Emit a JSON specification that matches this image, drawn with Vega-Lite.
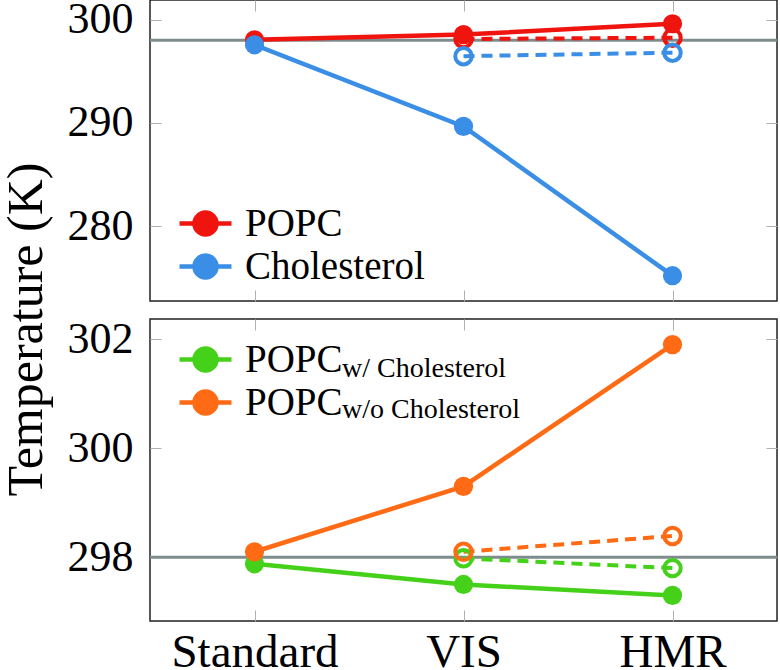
{
  "$schema": "https://vega.github.io/schema/vega-lite/v6.json",
  "background": "white",
  "padding": {"left": 0, "top": -4, "right": 0, "bottom": 0},
  "datasets": {
    "top": [
      {"series": "POPC", "kind": "solid", "step": "Standard", "value": 298.05},
      {"series": "POPC", "kind": "solid", "step": "VIS", "value": 298.55},
      {"series": "POPC", "kind": "solid", "step": "HMR", "value": 299.6},
      {"series": "POPC", "kind": "open", "step": "VIS", "value": 298.12},
      {"series": "POPC", "kind": "open", "step": "HMR", "value": 298.25},
      {"series": "Cholesterol", "kind": "solid", "step": "Standard", "value": 297.56},
      {"series": "Cholesterol", "kind": "solid", "step": "VIS", "value": 289.66},
      {"series": "Cholesterol", "kind": "solid", "step": "HMR", "value": 275.2},
      {"series": "Cholesterol", "kind": "open", "step": "VIS", "value": 296.46},
      {"series": "Cholesterol", "kind": "open", "step": "HMR", "value": 296.8}
    ],
    "bottom": [
      {"series": "w/ Cholesterol", "sub": "with", "kind": "solid", "step": "Standard", "value": 297.88},
      {"series": "w/ Cholesterol", "sub": "with", "kind": "solid", "step": "VIS", "value": 297.5},
      {"series": "w/ Cholesterol", "sub": "with", "kind": "solid", "step": "HMR", "value": 297.3},
      {"series": "w/ Cholesterol", "sub": "with", "kind": "open", "step": "VIS", "value": 297.98},
      {"series": "w/ Cholesterol", "sub": "with", "kind": "open", "step": "HMR", "value": 297.8},
      {"series": "w/o Cholesterol", "sub": "without", "kind": "solid", "step": "Standard", "value": 298.1},
      {"series": "w/o Cholesterol", "sub": "without", "kind": "solid", "step": "VIS", "value": 299.3},
      {"series": "w/o Cholesterol", "sub": "without", "kind": "solid", "step": "HMR", "value": 301.9},
      {"series": "w/o Cholesterol", "sub": "without", "kind": "open", "step": "VIS", "value": 298.1},
      {"series": "w/o Cholesterol", "sub": "without", "kind": "open", "step": "HMR", "value": 298.39}
    ],
    "ref": [{"value": 298}]
  },
  "spacing": 18,
  "bounds": "flush",
  "resolve": {
    "scale": {"x": "independent", "y": "independent", "color": "independent", "opacity": "independent"},
    "legend": {"color": "independent", "opacity": "independent"}
  },
  "vconcat": [
    {
      "width": 627,
      "height": 301,
      "data": {"name": "top"},
      "resolve": {"axis": {"x": "independent", "y": "independent"}},
      "layer": [
        {
          "data": {"name": "ref"},
          "mark": {"type": "rule", "color": "#7f8c8d", "strokeWidth": 3},
          "encoding": {
            "y": {"field": "value", "type": "quantitative", "scale": {"domain": [272.75, 301.9], "zero": false, "nice": false}, "axis": null}
          }
        },
        {
          "transform": [{"filter": "datum.kind == 'open'"}],
          "mark": {"type": "line", "strokeWidth": 4, "strokeDash": [11, 7]},
          "encoding": {
            "x": {"field": "step", "type": "ordinal", "sort": ["Standard", "VIS", "HMR"], "scale": {"type": "point", "domain": ["Standard", "VIS", "HMR"], "padding": 0.5}, "axis": null},
            "y": {"field": "value", "type": "quantitative", "scale": {"domain": [272.75, 301.9], "zero": false, "nice": false}, "axis": null},
            "color": {"field": "series", "type": "nominal", "scale": {"domain": ["POPC", "Cholesterol"], "range": ["#f0140f", "#3a8ee6"]},
              "legend": {"orient": "none", "legendX": 35, "legendY": 203, "title": null, "padding": 0, "rowPadding": 2, "symbolType": "M-1.444,0H1.444M-0.611,0A0.611,0.611,0,1,1,0.611,0A0.611,0.611,0,1,1,-0.611,0Z", "symbolSize": 1296, "symbolStrokeWidth": 4.5, "symbolOffset": 0, "labelOffset": 19, "labelFontSize": 39, "labelBaseline": "middle",
                "encode": {"symbols": {"update": {"fill": {"scale": "concat_0_color", "field": "value"}, "stroke": {"scale": "concat_0_color", "field": "value"}, "strokeWidth": {"value": 4.5}, "strokeDash": {"value": []}, "opacity": {"value": 1}, "fillOpacity": {"value": 1}, "size": {"value": 1296}}}}}}
          }
        },
        {
          "transform": [{"filter": "datum.kind == 'solid'"}],
          "mark": {"type": "line", "strokeWidth": 4.5},
          "encoding": {
            "x": {"field": "step", "type": "ordinal", "sort": ["Standard", "VIS", "HMR"], "scale": {"type": "point", "domain": ["Standard", "VIS", "HMR"], "padding": 0.5},
              "axis": {"orient": "bottom", "labels": false, "title": null, "ticks": true}},
            "y": {"field": "value", "type": "quantitative", "scale": {"domain": [272.75, 301.9], "zero": false, "nice": false},
              "axis": {"orient": "left", "values": [280, 290, 300], "title": "Temperature (K)", "titleFontSize": 50, "titleY": 329, "titlePadding": 15.5, "labelFontSize": 44, "labelPadding": 28}},
            "color": {"field": "series", "type": "nominal", "scale": {"domain": ["POPC", "Cholesterol"], "range": ["#f0140f", "#3a8ee6"]}}
          }
        },
        {
          "transform": [{"filter": "datum.kind == 'open'"}],
          "mark": {"type": "point", "filled": false, "strokeWidth": 4, "size": 272, "opacity": 1},
          "encoding": {
            "x": {"field": "step", "type": "ordinal", "scale": {"type": "point", "domain": ["Standard", "VIS", "HMR"], "padding": 0.5}, "axis": null},
            "y": {"field": "value", "type": "quantitative", "scale": {"domain": [272.75, 301.9], "zero": false, "nice": false}, "axis": null},
            "color": {"field": "series", "type": "nominal", "scale": {"domain": ["POPC", "Cholesterol"], "range": ["#f0140f", "#3a8ee6"]}}
          }
        },
        {
          "transform": [{"filter": "datum.kind == 'solid'"}],
          "mark": {"type": "point", "filled": true, "size": 370, "opacity": 1},
          "encoding": {
            "x": {"field": "step", "type": "ordinal", "scale": {"type": "point", "domain": ["Standard", "VIS", "HMR"], "padding": 0.5},
              "axis": {"orient": "top", "labels": false, "title": null}},
            "y": {"field": "value", "type": "quantitative", "scale": {"domain": [272.75, 301.9], "zero": false, "nice": false},
              "axis": {"orient": "right", "values": [280, 290, 300], "labels": false, "title": null}},
            "color": {"field": "series", "type": "nominal", "scale": {"domain": ["POPC", "Cholesterol"], "range": ["#f0140f", "#3a8ee6"]}}
          }
        }
      ]
    },
    {
      "width": 627,
      "height": 302,
      "data": {"name": "bottom"},
      "resolve": {"axis": {"x": "independent", "y": "independent"}},
      "layer": [
        {
          "data": {"name": "ref"},
          "mark": {"type": "rule", "color": "#7f8c8d", "strokeWidth": 3},
          "encoding": {
            "y": {"field": "value", "type": "quantitative", "scale": {"domain": [296.83, 302.37], "zero": false, "nice": false}, "axis": null}
          }
        },
        {
          "transform": [{"filter": "datum.kind == 'open'"}],
          "mark": {"type": "line", "strokeWidth": 4, "strokeDash": [11, 7]},
          "encoding": {
            "x": {"field": "step", "type": "ordinal", "sort": ["Standard", "VIS", "HMR"], "scale": {"type": "point", "domain": ["Standard", "VIS", "HMR"], "padding": 0.5}, "axis": null},
            "y": {"field": "value", "type": "quantitative", "scale": {"domain": [296.83, 302.37], "zero": false, "nice": false}, "axis": null},
            "color": {"field": "series", "type": "nominal", "scale": {"domain": ["w/ Cholesterol", "w/o Cholesterol"], "range": ["#45d11a", "#ff6a14"]},
              "legend": {"orient": "none", "legendX": 35, "legendY": 20, "title": null, "padding": 0, "rowPadding": 2, "symbolType": "M-1.444,0H1.444M-0.611,0A0.611,0.611,0,1,1,0.611,0A0.611,0.611,0,1,1,-0.611,0Z", "symbolSize": 1296, "symbolStrokeWidth": 4.5, "symbolOffset": 0, "labelOffset": 19, "labelFontSize": 39, "labelBaseline": "middle", "labelExpr": "'POPC'",
                "encode": {"symbols": {"update": {"fill": {"scale": "concat_1_color", "field": "value"}, "stroke": {"scale": "concat_1_color", "field": "value"}, "strokeWidth": {"value": 4.5}, "strokeDash": {"value": []}, "opacity": {"value": 1}, "fillOpacity": {"value": 1}, "size": {"value": 1296}}}}}}
          }
        },
        {
          "transform": [{"filter": "datum.kind == 'solid'"}],
          "mark": {"type": "line", "strokeWidth": 4.5},
          "encoding": {
            "x": {"field": "step", "type": "ordinal", "sort": ["Standard", "VIS", "HMR"], "scale": {"type": "point", "domain": ["Standard", "VIS", "HMR"], "padding": 0.5},
              "axis": {"orient": "bottom", "title": null, "labelAngle": 0, "labelFontSize": 47, "labelPadding": 19}},
            "y": {"field": "value", "type": "quantitative", "scale": {"domain": [296.83, 302.37], "zero": false, "nice": false},
              "axis": {"orient": "left", "values": [298, 300, 302], "title": null, "labelFontSize": 44, "labelPadding": 28}},
            "color": {"field": "series", "type": "nominal", "scale": {"domain": ["w/ Cholesterol", "w/o Cholesterol"], "range": ["#45d11a", "#ff6a14"]}}
          }
        },
        {
          "transform": [{"filter": "datum.kind == 'open'"}],
          "mark": {"type": "point", "filled": false, "strokeWidth": 4, "size": 272, "opacity": 1},
          "encoding": {
            "x": {"field": "step", "type": "ordinal", "scale": {"type": "point", "domain": ["Standard", "VIS", "HMR"], "padding": 0.5}, "axis": null},
            "y": {"field": "value", "type": "quantitative", "scale": {"domain": [296.83, 302.37], "zero": false, "nice": false}, "axis": null},
            "color": {"field": "series", "type": "nominal", "scale": {"domain": ["w/ Cholesterol", "w/o Cholesterol"], "range": ["#45d11a", "#ff6a14"]}}
          }
        },
        {
          "transform": [{"filter": "datum.kind == 'solid'"}],
          "mark": {"type": "point", "filled": true, "size": 370, "opacity": 1},
          "encoding": {
            "x": {"field": "step", "type": "ordinal", "scale": {"type": "point", "domain": ["Standard", "VIS", "HMR"], "padding": 0.5},
              "axis": {"orient": "top", "labels": false, "title": null}},
            "y": {"field": "value", "type": "quantitative", "scale": {"domain": [296.83, 302.37], "zero": false, "nice": false},
              "axis": {"orient": "right", "values": [298, 300, 302], "labels": false, "title": null}},
            "color": {"field": "series", "type": "nominal", "scale": {"domain": ["w/ Cholesterol", "w/o Cholesterol"], "range": ["#45d11a", "#ff6a14"]}},
            "opacity": {"field": "sub", "type": "nominal", "scale": {"domain": ["with", "without"], "range": [1, 1]},
              "legend": {"orient": "none", "legendX": 164, "legendY": 44, "title": null, "padding": 0, "rowPadding": 13, "symbolSize": 1, "symbolOffset": 0, "labelOffset": 0, "labelFontSize": 28, "labelBaseline": "alphabetic", "symbolFillColor": "transparent", "symbolStrokeColor": "transparent", "labelExpr": "datum.value == 'with' ? 'w/ Cholesterol' : 'w/o Cholesterol'",
                "encode": {"symbols": {"update": {"opacity": {"value": 0}, "fill": {"value": "transparent"}, "stroke": {"value": "transparent"}}}}}}
          }
        }
      ]
    }
  ],
  "config": {
    "font": "Liberation Serif",
    "view": {"stroke": "#222222", "strokeWidth": 1.5},
    "axis": {"domain": false, "grid": false, "tickColor": "#b0b0b0", "tickWidth": 1, "tickSize": -11, "labelFont": "Liberation Serif", "labelColor": "#000000", "titleFont": "Liberation Serif", "titleColor": "#000000", "titleFontWeight": "normal"},
    "legend": {"labelFont": "Liberation Serif", "labelColor": "#000000", "labelLimit": 0}
  }
}
